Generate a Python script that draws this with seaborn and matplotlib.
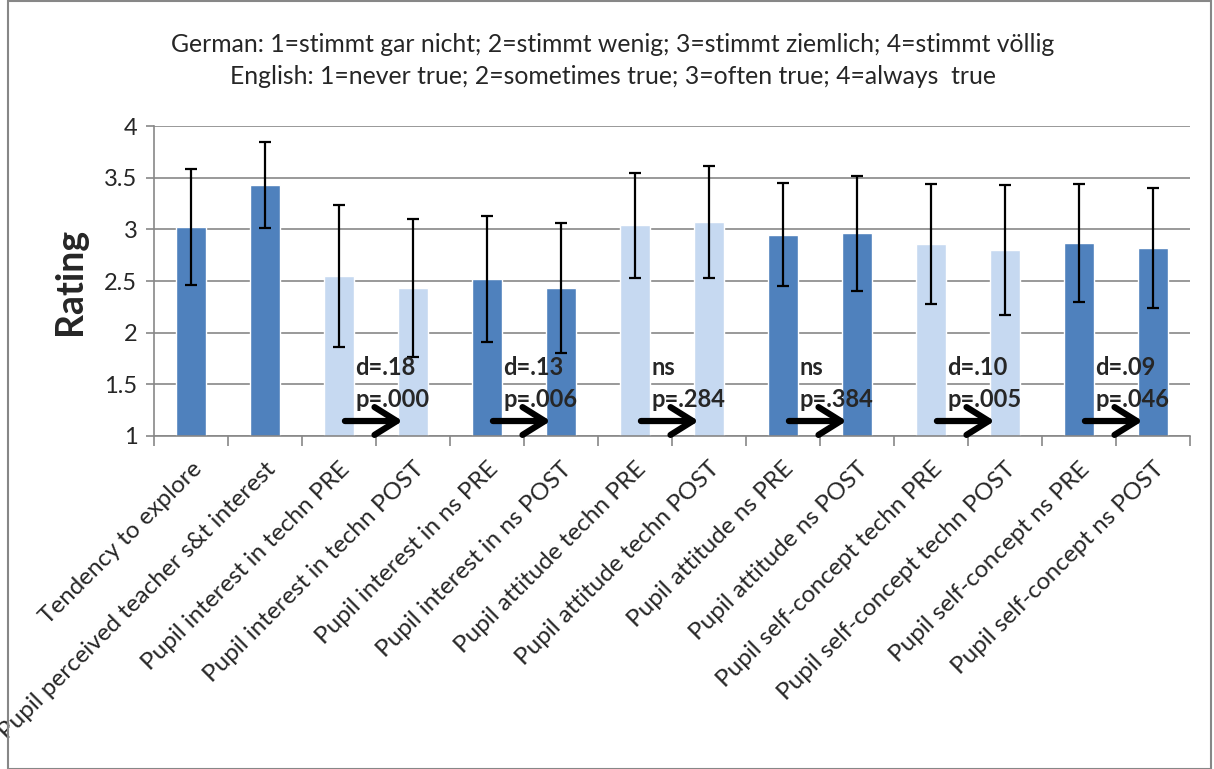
import matplotlib
matplotlib.use("Agg")
import matplotlib.pyplot as plt
import matplotlib.patches as mpatches
import matplotlib.transforms as mtransforms
import seaborn as sns
import pandas as pd

categories = [
    "Tendency to explore",
    "Pupil perceived teacher s&t interest",
    "Pupil interest in techn PRE",
    "Pupil interest in techn POST",
    "Pupil interest in ns PRE",
    "Pupil interest in ns POST",
    "Pupil attitude techn PRE",
    "Pupil attitude techn POST",
    "Pupil attitude ns PRE",
    "Pupil attitude ns POST",
    "Pupil self-concept techn PRE",
    "Pupil self-concept techn POST",
    "Pupil self-concept ns PRE",
    "Pupil self-concept ns POST",
]
means = [3.02, 3.43, 2.55, 2.43, 2.52, 2.43, 3.04, 3.07, 2.95, 2.96, 2.86, 2.80, 2.87, 2.82]
sds = [0.56, 0.42, 0.69, 0.67, 0.61, 0.63, 0.51, 0.54, 0.50, 0.56, 0.58, 0.63, 0.57, 0.58]
shade = ["dark", "dark", "light", "light", "dark", "dark", "light", "light",
         "dark", "dark", "light", "light", "dark", "dark"]

# PRE -> POST comparisons: (pre index, effect line, p line)
comparisons = [
    (2, "d=.18", "p=.000"),
    (4, "d=.13", "p=.006"),
    (6, "ns", "p=.284"),
    (8, "ns", "p=.384"),
    (10, "d=.10", "p=.005"),
    (12, "d=.09", "p=.046"),
]

title_lines = [
    "German: 1=stimmt gar nicht; 2=stimmt wenig; 3=stimmt ziemlich; 4=stimmt völlig",
    "English: 1=never true; 2=sometimes true; 3=often true; 4=always  true",
]

DARK = "#4F81BD"
LIGHT = "#C6D9F1"
GRID = "#878787"

sns.set_theme(style="white")
plt.rcParams["font.family"] = ["Lato", "DejaVu Sans"]

df = pd.DataFrame({"category": categories, "mean": means, "sd": sds, "shade": shade})
palette = {c: (DARK if s == "dark" else LIGHT) for c, s in zip(categories, shade)}

fig = plt.figure(figsize=(12.14, 7.69), dpi=100)
ax = fig.add_axes([154 / 1214, 1 - 436 / 769, (1190 - 154) / 1214, (436 - 126) / 769])

sns.barplot(data=df, x="category", y="mean", hue="category", palette=palette,
            order=categories, width=0.4, errorbar=None, legend=False, ax=ax,
            saturation=1, zorder=2)
ax.errorbar(range(len(categories)), df["mean"], yerr=df["sd"], fmt="none",
            ecolor="black", elinewidth=1.6, capsize=4.5, capthick=1.6, zorder=3)

ax.set_ylim(1, 4)
ax.set_xlim(-0.5, len(categories) - 0.5)
ax.set_yticks([1, 1.5, 2, 2.5, 3, 3.5, 4])
ax.set_yticklabels(["1", "1.5", "2", "2.5", "3", "3.5", "4"], fontsize=17)
ax.yaxis.grid(True, color=GRID, linewidth=1.2, zorder=0)
ax.set_axisbelow(True)
for side in ["top", "right"]:
    ax.spines[side].set_visible(False)
for side in ["left", "bottom"]:
    ax.spines[side].set_color(GRID)
    ax.spines[side].set_linewidth(1.2)

ax.set_xticks(range(len(categories)))
ax.set_xticklabels(categories, rotation=45, ha="right", rotation_mode="anchor", fontsize=17.5)
shift = mtransforms.ScaledTranslation(-8 / 100, -2 / 100, fig.dpi_scale_trans)
for lbl in ax.get_xticklabels():
    lbl.set_transform(lbl.get_transform() + shift)
ax.set_xticks([i - 0.5 for i in range(len(categories) + 1)], minor=True)
ax.tick_params(axis="x", which="major", length=0, pad=16)
ax.tick_params(axis="x", which="minor", length=7, width=1.2, color=GRID, direction="out", bottom=True)
ax.tick_params(axis="y", length=6, width=1.2, color=GRID, direction="out", left=True, pad=6)
ax.set_xlabel("")
ax.set_ylabel("Rating", fontsize=27, fontweight="bold", labelpad=12)

for pre, eff, pval in comparisons:
    ax.text(pre + 0.22, 1.66, eff, fontsize=17, fontweight="bold", va="center", ha="left", zorder=5)
    ax.text(pre + 0.22, 1.35, pval, fontsize=17, fontweight="bold", va="center", ha="left", zorder=5)
    ax.annotate("", xy=(pre + 0.86, 1.145), xytext=(pre + 0.08, 1.145),
                arrowprops=dict(arrowstyle="->,head_length=0.8,head_width=0.5",
                                mutation_scale=20, lw=4.5, color="black",
                                shrinkA=0, shrinkB=0), zorder=5)

fig.text(0.505, 1 - 45 / 769, title_lines[0], fontsize=17.8, ha="center", va="center")
fig.text(0.505, 1 - 76 / 769, title_lines[1], fontsize=17.8, ha="center", va="center")

fig.patches.append(mpatches.Rectangle((8 / 1214, 0.0), (1211 - 8) / 1214, 1.0 - 1 / 769,
                                      transform=fig.transFigure, fill=False,
                                      edgecolor=GRID, linewidth=1.5))

fig.savefig("out.png", dpi=100)
